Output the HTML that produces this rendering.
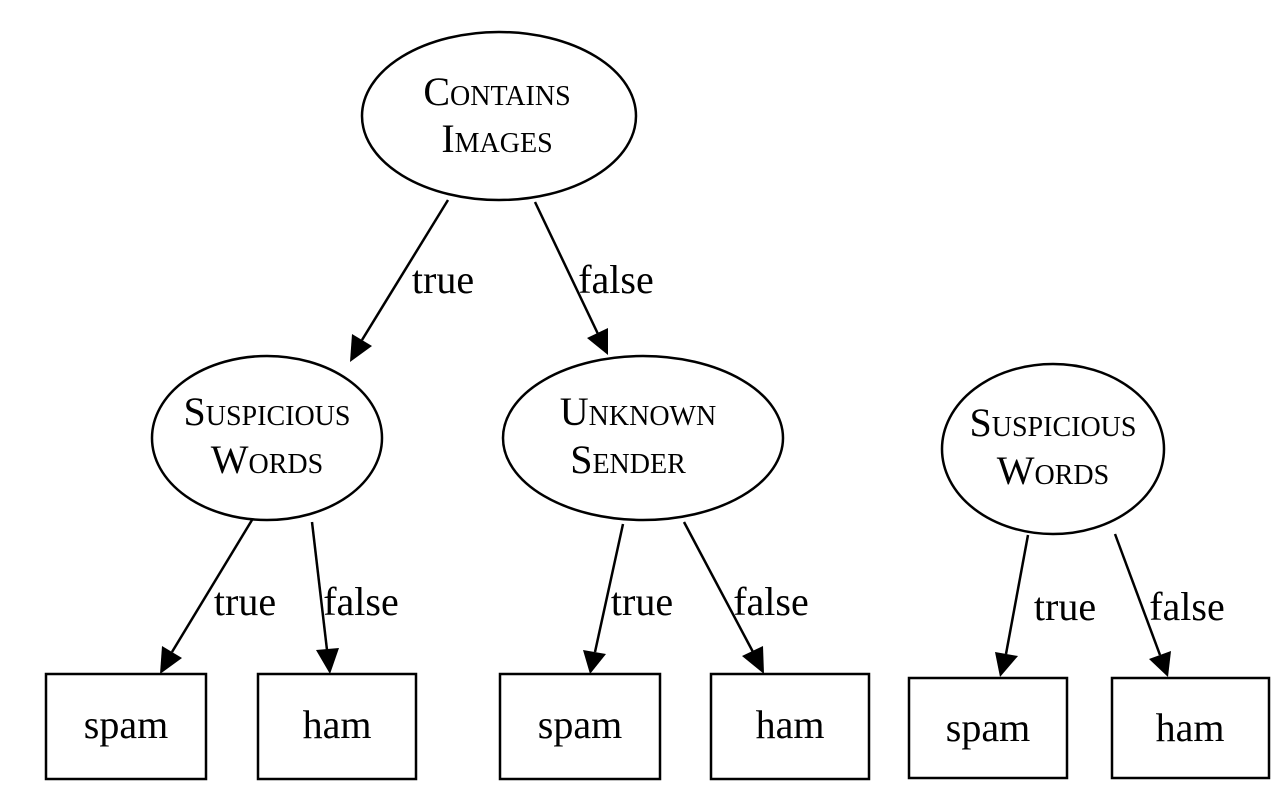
<!DOCTYPE html>
<html><head><style>html,body{margin:0;padding:0;background:#fff}svg{display:block}</style></head>
<body>
<svg width="1288" height="806" viewBox="0 0 1288 806" xmlns="http://www.w3.org/2000/svg" font-family="'Liberation Serif',serif">
<g fill="none" stroke="#000" stroke-width="2.5">
<ellipse cx="499" cy="116" rx="137" ry="84"/>
<ellipse cx="267" cy="438" rx="115" ry="82"/>
<ellipse cx="643" cy="438" rx="140" ry="82"/>
<ellipse cx="1053" cy="449" rx="111" ry="85"/>
<rect x="46" y="674" width="160" height="105"/>
<rect x="258" y="674" width="158" height="105"/>
<rect x="500" y="674" width="160" height="105"/>
<rect x="711" y="674" width="158" height="105"/>
<rect x="909" y="678" width="158" height="100"/>
<rect x="1112" y="678" width="157" height="100"/>
<line x1="448" y1="200" x2="362" y2="340"/>
<line x1="535" y1="202" x2="598" y2="334"/>
<line x1="252" y1="520" x2="172" y2="652"/>
<line x1="312" y1="522" x2="327" y2="650"/>
<line x1="623" y1="524" x2="595" y2="652"/>
<line x1="684" y1="522" x2="753" y2="652"/>
<line x1="1028" y1="535" x2="1006" y2="654"/>
<line x1="1115" y1="534" x2="1160" y2="655"/>
</g>
<g fill="#000">
<polygon points="350,362 352,334 372,346"/>
<polygon points="608,355 587,338 608,328"/>
<polygon points="160,674 162,646 182,658"/>
<polygon points="330,674 316,650 339,648"/>
<polygon points="590,674 583,650 606,654"/>
<polygon points="764,674 742,656 763,646"/>
<polygon points="1000,677 995,652 1018,656"/>
<polygon points="1168,677 1149,659 1171,651"/>
</g>
<g font-size="40" text-anchor="middle" fill="#000">
<text x="443" y="293">true</text>
<text x="616" y="293">false</text>
<text x="245" y="615">true</text>
<text x="361" y="615">false</text>
<text x="642" y="615">true</text>
<text x="771" y="615">false</text>
<text x="1065" y="620">true</text>
<text x="1187" y="620">false</text>
<text x="126" y="738">spam</text>
<text x="337" y="738">ham</text>
<text x="580" y="738">spam</text>
<text x="790" y="738">ham</text>
<text x="988" y="741">spam</text>
<text x="1190" y="741">ham</text>
</g>
<g font-size="40" text-anchor="middle" fill="#000">
<text x="497" y="105">C<tspan font-size="28">ONTAINS</tspan></text>
<text x="497" y="152">I<tspan font-size="28">MAGES</tspan></text>
<text x="267" y="425">S<tspan font-size="28">USPICIOUS</tspan></text>
<text x="267" y="473">W<tspan font-size="28">ORDS</tspan></text>
<text x="638" y="425">U<tspan font-size="28">NKNOWN</tspan></text>
<text x="628" y="473">S<tspan font-size="28">ENDER</tspan></text>
<text x="1053" y="436">S<tspan font-size="28">USPICIOUS</tspan></text>
<text x="1053" y="484">W<tspan font-size="28">ORDS</tspan></text>
</g>
</svg>
</body></html>
